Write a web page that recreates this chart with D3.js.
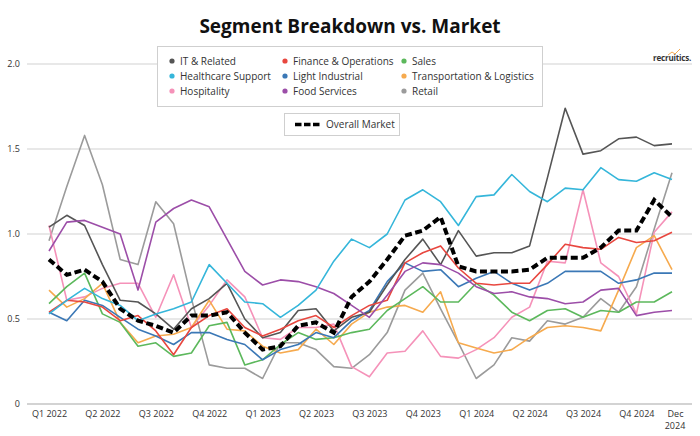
<!DOCTYPE html>
<html><head><meta charset="utf-8">
<script src="https://cdn.jsdelivr.net/npm/d3@7"></script>
<style>
body{margin:0;background:#fff;}
svg{display:block;font-family:"Open Sans",sans-serif;}
</style></head>
<body><svg id="chart" width="700" height="436"></svg>
<script>
const months = d3.range(36);
const tickIdx = [0,3,6,9,12,15,18,21,24,27,30,33,35];
const tickLabels = ["Q1 2022","Q2 2022","Q3 2022","Q4 2022","Q1 2023","Q2 2023","Q3 2023","Q4 2023","Q1 2024","Q2 2024","Q3 2024","Q4 2024","Dec 2024"];
const yTicks = [0,0.5,1.0,1.5,2.0];

const itRelated = [1.04,1.11,1.05,0.82,0.61,0.60,0.53,0.44,0.56,0.62,0.71,0.50,0.39,0.42,0.55,0.56,0.43,0.51,0.54,0.70,0.85,0.97,0.82,1.02,0.87,0.89,0.89,0.93,1.33,1.74,1.47,1.49,1.56,1.57,1.52,1.53];
const finance = [0.54,0.61,0.60,0.57,0.49,0.52,0.43,0.29,0.45,0.52,0.56,0.45,0.40,0.44,0.49,0.52,0.45,0.52,0.58,0.61,0.83,0.89,0.93,0.80,0.71,0.70,0.71,0.71,0.82,0.94,0.92,0.91,0.98,0.95,0.96,1.01];
const sales = [0.59,0.69,0.77,0.53,0.48,0.34,0.36,0.28,0.30,0.46,0.48,0.23,0.26,0.35,0.42,0.38,0.39,0.42,0.44,0.55,0.62,0.69,0.60,0.60,0.71,0.64,0.54,0.49,0.55,0.56,0.51,0.55,0.54,0.60,0.60,0.66];
const healthcare = [0.53,0.61,0.68,0.62,0.58,0.49,0.53,0.56,0.60,0.82,0.71,0.60,0.59,0.51,0.58,0.67,0.84,0.97,0.92,1.00,1.20,1.26,1.19,1.05,1.22,1.23,1.35,1.25,1.19,1.27,1.26,1.39,1.32,1.31,1.36,1.32];
const lightIndustrial = [0.54,0.49,0.61,0.58,0.51,0.44,0.40,0.35,0.42,0.42,0.38,0.35,0.26,0.32,0.35,0.42,0.39,0.49,0.55,0.72,0.83,0.78,0.79,0.69,0.74,0.78,0.71,0.67,0.71,0.78,0.78,0.78,0.71,0.73,0.77,0.77];
const transport = [0.67,0.57,0.62,0.71,0.48,0.36,0.40,0.41,0.45,0.61,0.44,0.43,0.34,0.30,0.32,0.44,0.35,0.47,0.54,0.57,0.58,0.54,0.66,0.36,0.33,0.30,0.32,0.39,0.45,0.46,0.45,0.43,0.67,0.92,0.99,0.79];
const hospitality = [1.05,0.61,0.63,0.68,0.71,0.71,0.51,0.76,0.45,0.58,0.73,0.63,0.39,0.38,0.45,0.45,0.47,0.22,0.16,0.30,0.31,0.43,0.28,0.27,0.32,0.39,0.51,0.57,0.84,0.83,1.26,0.83,0.75,0.53,1.01,1.13];
const foodServices = [0.90,1.07,1.08,1.04,1.00,0.67,1.07,1.15,1.20,1.16,0.97,0.78,0.70,0.73,0.72,0.69,0.65,0.58,0.51,0.64,0.78,0.83,0.82,0.77,0.69,0.65,0.66,0.63,0.62,0.59,0.60,0.67,0.68,0.52,0.54,0.55];
const retail = [0.96,1.28,1.58,1.29,0.85,0.82,1.19,1.06,0.62,0.23,0.21,0.21,0.15,0.36,0.36,0.32,0.22,0.21,0.29,0.42,0.67,0.77,0.56,0.36,0.15,0.23,0.39,0.37,0.49,0.47,0.51,0.62,0.54,0.69,1.03,1.36];
const overall = [0.85,0.76,0.79,0.72,0.56,0.49,0.46,0.42,0.52,0.52,0.54,0.42,0.32,0.34,0.46,0.48,0.42,0.63,0.72,0.85,0.99,1.02,1.10,0.81,0.78,0.78,0.78,0.79,0.86,0.86,0.86,0.92,1.02,1.02,1.20,1.10];

const seriesNames = ["IT & Related","Finance & Operations","Sales","Healthcare Support","Light Industrial","Transportation & Logistics","Hospitality","Food Services","Retail"];
const seriesValues = [itRelated,finance,sales,healthcare,lightIndustrial,transport,hospitality,foodServices,retail];
const seriesColors = ["#555555","#e8473f","#5cb85c","#35b6da","#3b78b6","#f6aa4e","#f592b9","#9c4ea8","#9b9b9b"];
const drawOrder = [8,6,5,2,4,0,1,7,3];

const svg = d3.select("#chart");
const x = d3.scaleLinear().domain([0,35]).range([49,672]);
const y = d3.scaleLinear().domain([0,2]).range([404,64]);

svg.append("text").attr("x",350).attr("y",33).attr("text-anchor","middle")
  .attr("font-size",19).attr("font-weight",700).attr("fill","#111")
  .text("Segment Breakdown vs. Market");

const grid = svg.append("g");
yTicks.forEach(t=>{
  grid.append("line").attr("x1",27).attr("x2",692).attr("y1",y(t)).attr("y2",y(t))
    .attr("stroke", t===0 ? "#c4c4c4" : "#e0e0e0").attr("stroke-width",1.3);
});
const yAxis = d3.axisLeft(y).tickValues(yTicks).tickSize(0).tickPadding(0)
  .tickFormat(d=> d===0 ? "0" : d3.format(".1f")(d));
const ya = svg.append("g").attr("transform","translate(20,0)").call(yAxis);
ya.select(".domain").remove();
ya.selectAll("text").attr("font-size",9).attr("fill","#333").attr("font-family","'Open Sans',sans-serif");

const xAxis = d3.axisBottom(x).tickValues(tickIdx).tickSize(0).tickPadding(0)
  .tickFormat((d,i)=> i===tickIdx.length-1 ? tickLabels[i].split(" ")[0] : tickLabels[i]);
const xa = svg.append("g").attr("transform","translate(0,408)").call(xAxis);
xa.select(".domain").remove();
xa.selectAll("text").attr("font-size",9).attr("fill","#333").attr("font-family","'Open Sans',sans-serif")
  .attr("dy",null).attr("y",9)
  .attr("dx",(d,i)=> i===tickIdx.length-1 ? 3 : 0);
// second line of the last label
svg.append("text").attr("x",x(35)+3).attr("y",429).attr("text-anchor","middle")
  .attr("font-size",9).attr("fill","#333").text(tickLabels[tickLabels.length-1].split(" ")[1]);

const line = d3.line().x((d,i)=>x(i)).y(d=>y(d));
const lg = svg.append("g");
drawOrder.forEach(k=>{
  lg.append("path").datum(seriesValues[k]).attr("d",line).attr("fill","none")
    .attr("stroke",seriesColors[k]).attr("stroke-width",1.6).attr("stroke-linejoin","round");
});
lg.append("path").datum(overall).attr("d",line).attr("fill","none")
  .attr("stroke","#000").attr("stroke-width",4).attr("stroke-dasharray","7,3.5");

const leg = svg.append("g");
leg.append("rect").attr("x",157.5).attr("y",46.5).attr("width",385).attr("height",60)
  .attr("fill","#fff").attr("stroke","#cfcfcf");
const colX = [172,285,404];
const rowY = [61,76,91];
seriesNames.forEach((name,i)=>{
  const cx = colX[i%3], cy = rowY[Math.floor(i/3)];
  leg.append("circle").attr("cx",cx).attr("cy",cy).attr("r",2.6).attr("fill",seriesColors[i]);
  leg.append("text").attr("x",cx+8).attr("y",cy+3.5).attr("font-size",10).attr("fill","#333").text(name);
});
leg.append("rect").attr("x",284.5).attr("y",113.5).attr("width",115).attr("height",22)
  .attr("fill","#fff").attr("stroke","#cfcfcf");
leg.append("line").attr("x1",295).attr("x2",320).attr("y1",124.5).attr("y2",124.5)
  .attr("stroke","#000").attr("stroke-width",3.5).attr("stroke-dasharray","6.5,2.5");
leg.append("text").attr("x",326).attr("y",128).attr("font-size",10).attr("fill","#333").text("Overall Market");

const logo = svg.append("g");
logo.append("text").attr("x",691).attr("y",61).attr("text-anchor","end").attr("font-size",8)
  .attr("font-weight",700).attr("fill","#333").attr("letter-spacing",-0.2).text("recruitics.");
logo.append("path").attr("d","M668,55 L672,52 L675,54 L680,49").attr("fill","none")
  .attr("stroke","#f6aa4e").attr("stroke-width",1);
</script></body></html>
